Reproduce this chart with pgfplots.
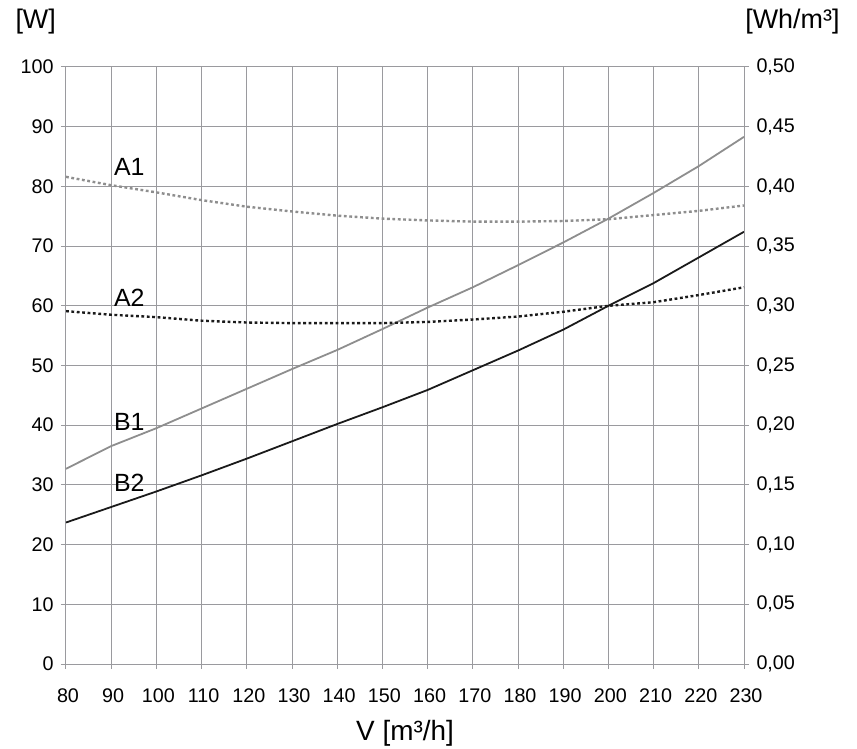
\documentclass[border=0pt]{standalone}
\usepackage{fontspec}
\setmainfont{Liberation Sans}
\usepackage{pgfplots}
\pgfplotsset{compat=1.18}
\usepackage{pgfplotstable}

\definecolor{gridgray}{HTML}{9A9A9E}
\definecolor{lightline}{HTML}{8E8E8E}
\definecolor{darkline}{HTML}{1A1A1A}

% power [W]
\pgfplotstableread{
x   B1    B2
80  32.7  23.7
90  36.5  26.3
100 39.5  28.9
110 42.8  31.6
120 46.1  34.4
130 49.4  37.3
140 52.6  40.2
150 56.1  43.0
160 59.7  45.9
170 63.1  49.2
180 66.8  52.5
190 70.6  56.0
200 74.6  60.0
210 78.9  63.8
220 83.4  68.1
230 88.3  72.4
}\power

% specific power [Wh/m3]
\pgfplotstableread{
x   A1     A2
80  0.408  0.2955
90  0.401  0.2925
100 0.395  0.2905
110 0.3885 0.2875
120 0.383  0.2860
130 0.379  0.2855
140 0.3755 0.2855
150 0.373  0.2855
160 0.3715 0.2865
170 0.3705 0.2885
180 0.3705 0.2910
190 0.371  0.2950
200 0.3725 0.3000
210 0.376  0.3030
220 0.3795 0.3090
230 0.384  0.3155
}\spec

\begin{document}
\begin{tikzpicture}
\pgfplotsset{
  every axis/.append style={
    scale only axis, width=678bp, height=597bp,
    xmin=80, xmax=230,
    tick align=outside, major tick length=5bp,
    tick style={gridgray, line width=1bp},
    axis line style={gridgray, line width=1bp},
    tick label style={font=\fontsize{19.8}{19.8}\selectfont},
    /pgf/number format/assume math mode=true,
  }
}
\begin{axis}[
  axis x line*=bottom, axis y line*=left,
  ymin=0, ymax=100,
  xtick={80,90,...,230}, ytick={0,10,...,100},
  grid=major,
  major grid style={gridgray, line width=1bp},
  xlabel={V [m³/h]},
  xlabel style={font=\fontsize{28}{28}\selectfont, yshift=-11bp},
  xticklabel style={yshift=-16bp, xshift=2bp},
  yticklabel style={xshift=-4bp},
]
\coordinate (O) at (rel axis cs:0,0);
\coordinate (T) at (rel axis cs:0,1);
\coordinate (R) at (rel axis cs:1,1);
\addplot[lightline, line width=1.8bp] table[x=x, y=B1] {\power};
\addplot[darkline, line width=1.8bp] table[x=x, y=B2] {\power};
\node[font=\fontsize{25}{25}\selectfont] at (axis cs:94,83.3) {A1};
\node[font=\fontsize{25}{25}\selectfont] at (axis cs:94,61.4) {A2};
\node[font=\fontsize{25}{25}\selectfont] at (axis cs:94,40.6) {B1};
\node[font=\fontsize{25}{25}\selectfont] at (axis cs:94,30.4) {B2};
\end{axis}
\begin{axis}[
  axis x line=none, axis y line*=right,
  ymin=0, ymax=0.5,
  ytick={0,0.05,...,0.5},
  yticklabel style={xshift=4bp, /pgf/number format/.cd, fixed, fixed zerofill, precision=2, use comma},
]
\addplot[lightline, line width=2.4bp, dash pattern=on 2.8bp off 2.6bp] table[x=x, y=A1] {\spec};
\addplot[darkline, line width=2.4bp, dash pattern=on 2.8bp off 2.6bp] table[x=x, y=A2] {\spec};
\end{axis}
\node[font=\fontsize{27}{27}\selectfont, anchor=base west] at ([shift={(-54bp,38bp)}]T) {[W]};
\node[font=\fontsize{27}{27}\selectfont, anchor=base east] at ([shift={(99bp,38bp)}]R) {[Wh/m³]};
\pgfresetboundingbox
\path[use as bounding box] ([shift={(-66bp,-85bp)}]O) rectangle ++(857bp,749bp);
\end{tikzpicture}
\end{document}
